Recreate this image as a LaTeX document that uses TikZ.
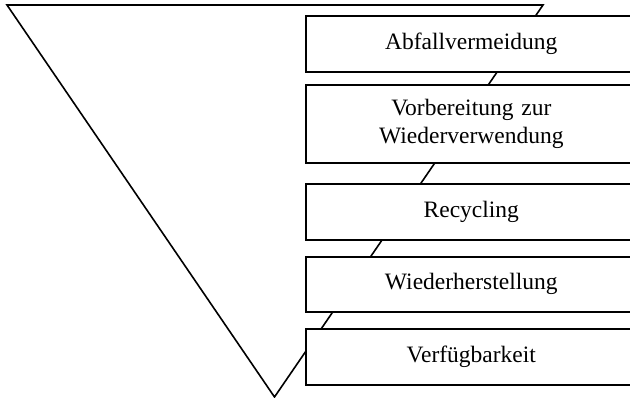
\documentclass[tikz,border=0pt]{standalone}
\usepackage{fontspec}
\setmainfont{Liberation Serif}
\begin{document}
\begin{tikzpicture}[x=1pt,y=-1pt,
  stage/.style={draw=black, line width=1.6pt, fill=white, anchor=north west,
    minimum width=331pt, text width=320pt, inner sep=0pt, align=center,
    font=\fontsize{23.5}{27.5}\selectfont},
  funnel/.style={draw=black, line width=1.6pt}]
\useasboundingbox (0,0) rectangle (630,398);
\clip (0,0) rectangle (630,398);
\coordinate (tl) at (7,5);
\coordinate (tr) at (543,5);
\coordinate (apex) at (274.5,397);
\draw[funnel] (tl) -- (tr) -- (apex) -- cycle;
\node[stage, minimum height=56pt] (s1) at (305,15) {Abfallvermeidung};
\node[stage, minimum height=78pt] (s2) at (305,84) {Vorbereitung zur\\Wiederverwendung};
\node[stage, minimum height=56pt] (s3) at (305,183) {Recycling};
\node[stage, minimum height=55pt] (s4) at (305,256) {Wiederherstellung};
\node[stage, minimum height=56pt] (s5) at (305,328) {Verfügbarkeit};
\end{tikzpicture}
\end{document}
